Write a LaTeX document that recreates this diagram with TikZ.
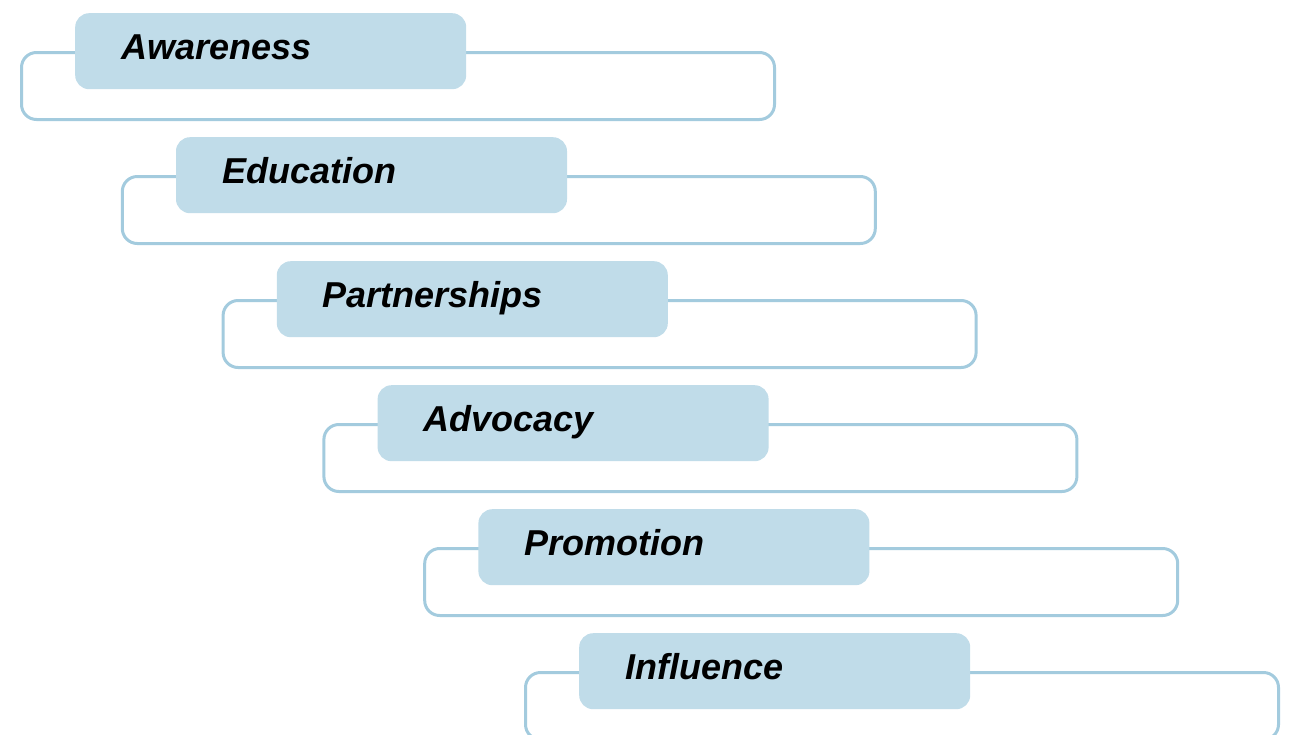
\documentclass[tikz,border=0pt]{standalone}
\usepackage{fontspec}
\setmainfont{Liberation Sans}
\definecolor{outl}{RGB}{163,203,222}
\definecolor{tabfill}{RGB}{192,220,233}
\begin{document}
\begin{tikzpicture}[x=1pt,y=-1pt,
  frame/.style={draw=outl, line width=3pt, rounded corners=15pt, fill=white,
    minimum width=753pt, minimum height=67pt, anchor=north west, inner sep=0pt},
  tab/.style={fill=tabfill, rounded corners=14pt,
    minimum width=391pt, minimum height=76pt, anchor=north west, inner sep=0pt},
  lbl/.style={anchor=base west, inner sep=0pt, text=black,
    font=\fontsize{36}{40}\selectfont\bfseries\itshape}]
\useasboundingbox (0,0) rectangle (1290,734);
\foreach \i/\t in {0/Awareness,1/Education,2/Partnerships,3/Advocacy,4/Promotion,5/Influence}{
  \pgfmathsetmacro\dx{100.8*\i}
  \pgfmathsetmacro\dy{124*\i}
  \node[frame] (frame\i) at (20+\dx, 51+\dy) {};
  \node[tab] (tab\i) at (75+\dx, 13+\dy) {};
  \node[lbl] (label\i) at ([xshift=46pt, yshift=-8pt]tab\i.west) {\t};
}
\end{tikzpicture}
\end{document}
